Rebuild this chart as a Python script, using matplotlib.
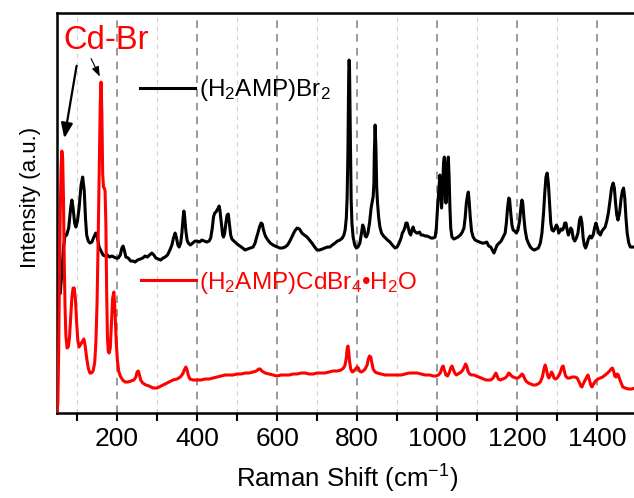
import matplotlib
matplotlib.use("Agg")
import matplotlib.pyplot as plt

plt.rcParams['font.family'] = ['Liberation Sans', 'DejaVu Sans']
plt.rcParams['mathtext.fontset'] = 'custom'
plt.rcParams['mathtext.rm'] = 'Liberation Sans'
plt.rcParams['mathtext.it'] = 'Liberation Sans'
plt.rcParams['mathtext.default'] = 'regular'

# (H2AMP)Br2 spectrum: Raman shift (cm-1) and intensity (a.u.)
br_x = [58, 62, 66, 70, 74, 79, 84, 87, 90, 94, 97, 101, 105, 110, 114, 118, 121, 124, 128, 132,
        137, 142, 147, 151, 155, 160, 165, 170, 176, 181, 187, 192, 197, 203, 208, 212, 215, 218,
        222, 228, 234, 240, 245, 251, 258, 264, 270, 276, 281, 287, 292, 297, 303, 309, 315, 320,
        326, 332, 337, 341, 345, 348, 352, 355, 359, 362, 365, 367, 369, 372, 375, 378, 383, 389,
        395, 400, 406, 412, 418, 424, 430, 434, 438, 441, 444, 447, 450, 453, 455, 457, 460, 462,
        464, 466, 469, 472, 475, 478, 481, 484, 487, 492, 500, 507, 514, 520, 526, 533, 540, 545,
        549, 552, 556, 560, 563, 566, 569, 572, 577, 583, 590, 595, 601, 607, 613, 620, 626, 632,
        638, 644, 650, 656, 662, 668, 675, 681, 687, 694, 700, 706, 713, 719, 726, 732, 738, 745,
        751, 757, 763, 767, 770, 773, 775, 777, 779, 780, 781, 783, 785, 787, 790, 794, 798, 802,
        807, 810, 812, 814, 817, 820, 823, 827, 831, 835, 838, 840, 842, 843, 845, 847, 849, 851,
        854, 857, 861, 866, 871, 876, 882, 888, 895, 900, 905, 910, 913, 916, 919, 922, 925, 928,
        931, 934, 937, 940, 943, 946, 949, 952, 956, 960, 965, 970, 975, 980, 985, 990, 995, 998,
        1001, 1004, 1007, 1009, 1011, 1013, 1016, 1018, 1020, 1022, 1024, 1026, 1028, 1030, 1032,
        1034, 1037, 1042, 1047, 1052, 1058, 1063, 1067, 1070, 1073, 1076, 1078, 1080, 1083, 1086,
        1090, 1095, 1100, 1106, 1112, 1118, 1124, 1129, 1134, 1138, 1142, 1146, 1150, 1155, 1160,
        1165, 1170, 1173, 1176, 1179, 1181, 1184, 1187, 1190, 1194, 1198, 1202, 1206, 1210, 1212,
        1214, 1217, 1220, 1224, 1228, 1233, 1238, 1243, 1248, 1253, 1258, 1262, 1266, 1269, 1272,
        1275, 1278, 1281, 1284, 1287, 1291, 1295, 1298, 1301, 1304, 1307, 1310, 1313, 1316, 1319,
        1322, 1325, 1328, 1331, 1334, 1337, 1340, 1344, 1348, 1352, 1356, 1359, 1362, 1365, 1368,
        1371, 1374, 1378, 1382, 1386, 1390, 1394, 1397, 1400, 1404, 1408, 1412, 1416, 1420, 1424,
        1428, 1432, 1436, 1440, 1443, 1446, 1449, 1452, 1456, 1460, 1463, 1466, 1469, 1472, 1475,
        1479, 1483, 1490, 1500]
br_y = [120, 140, 165, 178, 178, 185, 205, 213, 205, 190, 186, 192, 205, 228, 236, 222, 195, 178,
        172, 170, 171, 176, 180, 175, 166, 162, 158, 157, 158, 156, 157, 156, 155, 155, 158, 165,
        167, 163, 156, 155, 152, 152, 151, 153, 154, 155, 157, 156, 158, 160, 158, 155, 154, 153,
        155, 156, 158, 163, 168, 175, 180, 176, 168, 166, 170, 180, 195, 202, 196, 182, 173, 170,
        168, 170, 172, 172, 171, 173, 172, 171, 172, 175, 185, 196, 200, 201, 203, 205, 207, 203,
        192, 185, 178, 176, 180, 190, 198, 199, 188, 178, 174, 172, 169, 167, 165, 163, 164, 165,
        166, 170, 176, 180, 186, 190, 189, 183, 179, 176, 173, 170, 168, 167, 166, 165, 165, 166,
        168, 172, 177, 182, 185, 184, 180, 178, 176, 173, 170, 166, 163, 163, 164, 165, 166, 166,
        168, 170, 172, 173, 175, 178, 183, 195, 215, 260, 340, 353, 345, 280, 215, 190, 176, 168,
        165, 166, 170, 178, 183, 188, 185, 177, 176, 180, 190, 205, 212, 216, 230, 260, 288, 265,
        225, 210, 195, 186, 180, 177, 175, 173, 171, 168, 165, 166, 170, 175, 180, 182, 185, 190,
        190, 185, 180, 178, 183, 186, 182, 181, 180, 180, 181, 178, 178, 177, 177, 176, 175, 175,
        176, 185, 205, 222, 238, 225, 205, 215, 250, 256, 230, 210, 222, 250, 256, 235, 205, 185,
        176, 174, 175, 176, 178, 181, 185, 195, 210, 218, 221, 212, 195, 182, 176, 173, 172, 171,
        170, 170, 171, 167, 166, 163, 160, 164, 168, 170, 172, 176, 180, 190, 205, 215, 214, 200,
        188, 183, 182, 180, 183, 192, 208, 213, 210, 195, 183, 174, 170, 166, 164, 163, 164, 165,
        170, 180, 200, 220, 236, 240, 230, 210, 190, 183, 182, 185, 188, 186, 180, 182, 184, 183,
        185, 190, 190, 183, 178, 181, 185, 183, 175, 172, 175, 180, 193, 196, 190, 175, 168, 165,
        168, 174, 177, 175, 178, 186, 190, 186, 180, 178, 182, 184, 186, 192, 200, 212, 225, 230,
        225, 210, 198, 193, 200, 215, 222, 225, 215, 195, 180, 170, 166, 166, 166]

# (H2AMP)CdBr4·H2O spectrum
cd_x = [50, 52, 54, 56, 58, 60, 62, 64, 66, 68, 70, 72, 75, 78, 81, 84, 87, 90, 93, 96, 99, 102,
        105, 108, 111, 114, 117, 120, 124, 128, 132, 136, 140, 144, 147, 150, 153, 156, 158, 160,
        162, 164, 166, 168, 170, 172, 174, 176, 178, 180, 183, 186, 189, 192, 195, 198, 201, 204,
        208, 214, 220, 227, 235, 242, 247, 250, 253, 256, 259, 264, 272, 280, 290, 300, 310, 320,
        330, 340, 350, 358, 364, 368, 372, 375, 378, 382, 390, 400, 410, 420, 430, 440, 450, 460,
        470, 480, 490, 500, 510, 520, 530, 540, 548, 554, 558, 562, 570, 580, 590, 600, 610, 620,
        630, 640, 650, 660, 670, 680, 690, 700, 710, 720, 730, 740, 750, 760, 766, 770, 773, 775,
        777, 779, 781, 784, 788, 792, 796, 800, 803, 806, 810, 815, 820, 825, 828, 831, 834, 837,
        840, 845, 850, 860, 870, 880, 890, 900, 910, 920, 930, 940, 950, 960, 970, 982, 990, 997,
        1003, 1008, 1012, 1015, 1018, 1022, 1026, 1030, 1034, 1037, 1040, 1044, 1048, 1052, 1056,
        1060, 1064, 1068, 1071, 1074, 1077, 1081, 1086, 1092, 1098, 1104, 1110, 1116, 1122, 1128,
        1134, 1140, 1144, 1147, 1150, 1153, 1158, 1164, 1170, 1175, 1179, 1182, 1186, 1190, 1196,
        1202, 1208, 1212, 1215, 1218, 1222, 1228, 1234, 1240, 1246, 1252, 1258, 1263, 1267, 1270,
        1273, 1276, 1279, 1282, 1286, 1289, 1292, 1296, 1300, 1305, 1309, 1312, 1315, 1318, 1321,
        1326, 1332, 1338, 1344, 1350, 1355, 1359, 1362, 1365, 1370, 1374, 1377, 1380, 1384, 1387,
        1391, 1396, 1402, 1408, 1414, 1420, 1426, 1431, 1435, 1438, 1441, 1444, 1447, 1450, 1453,
        1456, 1460, 1464, 1470, 1478, 1486, 1494, 1500]
cd_y = [0, 10, 60, 140, 200, 245, 262, 255, 215, 150, 105, 78, 65, 66, 75, 95, 115, 125, 125, 113,
        90, 72, 66, 68, 70, 72, 74, 68, 55, 45, 40, 40, 42, 50, 70, 110, 180, 260, 310, 331,
        300, 240, 226, 225, 222, 190, 120, 75, 62, 60, 65, 90, 115, 121, 100, 70, 52, 42,
        37, 33, 31, 31, 32, 33, 36, 41, 42, 38, 33, 30, 28, 27, 25, 25, 27, 29,
        31, 33, 34, 36, 39, 43, 46, 43, 38, 34, 33, 33, 33, 34, 34, 35, 36, 37,
        38, 38, 38, 39, 39, 40, 40, 41, 42, 44, 44, 42, 40, 39, 38, 37, 38, 38,
        38, 39, 39, 40, 40, 39, 39, 40, 40, 40, 41, 42, 42, 43, 45, 48, 55, 64,
        67, 62, 52, 44, 41, 42, 44, 46, 45, 42, 41, 42, 44, 48, 54, 57, 56, 50,
        44, 41, 40, 39, 38, 38, 38, 38, 38, 39, 40, 40, 40, 39, 38, 38, 37, 37,
        38, 40, 45, 47, 43, 38, 37, 40, 45, 47, 44, 40, 38, 39, 40,
        41, 43, 46, 49, 47, 42, 39, 38, 38, 37, 36, 35, 34, 33, 33,
        33, 35, 38, 40, 37, 34, 33, 34, 35, 37, 40, 39, 37, 36, 35,
        35, 37, 39, 38, 35, 32, 30, 29, 28, 28, 29, 31, 36, 44, 48,
        44, 38, 35, 37, 41, 39, 35, 34, 35, 38, 42, 46, 47, 42, 37,
        35, 35, 36, 36, 35, 31, 27, 26, 29, 33, 36, 38, 34, 28, 26,
        29, 32, 34, 35, 36, 38, 40, 42, 44, 45, 42, 37, 36, 39, 38,
        34, 30, 26, 25, 24, 24, 25, 25]

xticks = [200, 400, 600, 800, 1000, 1200, 1400]
minor_xticks = [100, 300, 500, 700, 900, 1100, 1300]
label_br = r'(H$_2$AMP)Br$_2$'
label_cd = r'(H$_2$AMP)CdBr$_4$•H$_2$O'

fig = plt.figure(figsize=(6.34, 4.98), dpi=100)
ax = fig.add_axes([0.09, 0.1707, 0.915, 0.803])

ax.plot(br_x, br_y, color='black', lw=2.2, zorder=3, solid_joinstyle='round')
ax.plot(cd_x, cd_y, color='#ff0000', lw=2.2, zorder=3, solid_joinstyle='round')

ax.set_xlim(50, 1500)
ax.set_ylim(0, 400)
ax.set_xticks(xticks)
ax.set_xticks(minor_xticks, minor=True)
ax.set_yticks([])
ax.tick_params(axis='x', which='both', direction='out', length=6, width=1.5, labelsize=19, pad=4)
ax.grid(True, which='major', axis='x', color='#7f7f7f', ls=(0, (5, 4)), lw=1.1, zorder=1)
ax.grid(True, which='minor', axis='x', color='#d0d0d0', ls=(0, (4, 4)), lw=0.8, zorder=1)
for s in ax.spines.values():
    s.set_linewidth(1.8)

ax.set_xlabel('Raman Shift (cm$^{-1}$)', fontsize=18.5)
ax.xaxis.set_label_coords(0.5, -0.125)
ax.set_ylabel('Intensity (a.u.)', fontsize=16)
ax.yaxis.set_label_coords(-0.027, 0.54)

# legend-style labels
ax.plot([258, 395], [325, 325], color='black', lw=2.2)
ax.text(405, 323, label_br, fontsize=17.5, va='center', ha='left')
ax.plot([260, 397], [133, 133], color='#ff0000', lw=2.2)
ax.text(405, 130, label_cd, fontsize=17.5, va='center', ha='left', color='#ff0000')

ax.text(67, 373, 'Cd-Br', fontsize=23.5, color='#ff0000', va='center', ha='left')
ax.annotate('', xy=(67, 272), xytext=(100, 350),
            arrowprops=dict(arrowstyle='-|>,head_length=0.9,head_width=0.35', color='black', lw=1.6))
ax.annotate('', xy=(160, 334), xytext=(132, 357),
            arrowprops=dict(arrowstyle='-|>,head_length=0.6,head_width=0.22', color='black', lw=0.8))

fig.savefig('out.png', dpi=100)
